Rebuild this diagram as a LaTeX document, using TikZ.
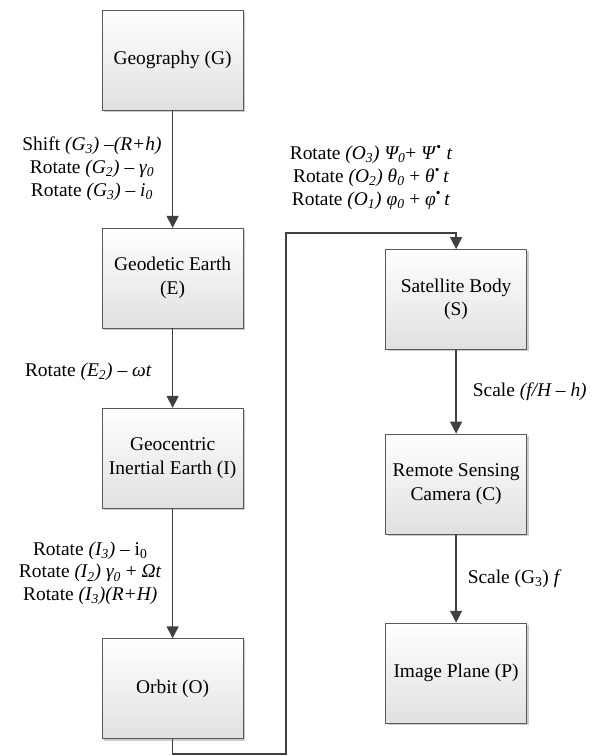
\documentclass[tikz,border=0pt]{standalone}
\usepackage{fontspec}
\setmainfont{Liberation Serif}
\usetikzlibrary{arrows.meta,positioning,shadows}

\begin{document}
\begin{tikzpicture}[
  frame/.style={draw=black!65, top color=white, bottom color=black!12,
    minimum width=4.97cm, minimum height=3.53cm, align=center,
    drop shadow={shadow xshift=2pt, shadow yshift=-2pt, fill=black!20, opacity=1},
    font=\fontsize{19.5}{24}\selectfont},
  arr/.style={-{Triangle[length=12pt,width=12pt]}, line width=1.4pt, draw=black!75},
  note/.style={font=\fontsize{19.5}{23}\selectfont, align=center}
]
  \useasboundingbox (0,0) rectangle (20.99,26.67);

  % left column
  \node[frame] (geo) at (6.09, 24.56) {Geography (G)};
  \node[frame] (earth) at (6.09, 16.86) {Geodetic Earth\\(E)};
  \node[frame] (inert) at (6.09, 10.51) {Geocentric\\Inertial Earth (I)};
  \node[frame] (orbit) at (6.09, 2.38) {Orbit (O)};

  % right column
  \node[frame] (sat) at (16.09, 16.11) {Satellite Body\\(S)};
  \node[frame] (cam) at (16.09, 9.60) {Remote Sensing\\Camera (C)};
  \node[frame] (img) at (16.09, 2.93) {Image Plane (P)};

  \coordinate (bend1) at (10.09, 0.07);
  \coordinate (bend2) at (10.09, 18.45);

  \draw[arr] (geo) -- (earth)
    node[midway, left=0.25cm, note] {Shift \textit{(G\textsubscript{3}) –(R+h)}\\
      Rotate \textit{(G\textsubscript{2}) – γ\textsubscript{0}}\\
      Rotate \textit{(G\textsubscript{3}) – i\textsubscript{0}}};
  \draw[arr] (earth) -- (inert)
    node[midway, left=0.6cm, yshift=-4pt, note] {Rotate \textit{(E\textsubscript{2}) – ωt}};
  \draw[arr] (inert) -- (orbit)
    node[midway, left=0.25cm, note] {Rotate \textit{(I\textsubscript{3})} – i\textsubscript{0}\\
      Rotate \textit{(I\textsubscript{2}) γ\textsubscript{0}} + \textit{Ωt}\\
      Rotate \textit{(I\textsubscript{3})(R+H)}};
  \draw[arr] (orbit.south) |- (bend1) -- (bend2) -| (sat.north)
    node[pos=0.25, above=0.7cm, note] {Rotate \textit{(O\textsubscript{3}) Ψ\textsubscript{0}}+ \textit{Ψ}\textsuperscript{•} \textit{t}\\
      Rotate \textit{(O\textsubscript{2}) θ\textsubscript{0}} + \textit{θ}\textsuperscript{•}\,\textit{t}\\
      Rotate \textit{(O\textsubscript{1}) φ\textsubscript{0}} + \textit{φ}\textsuperscript{•}\,\textit{t}};
  \draw[arr] (sat) -- (cam)
    node[midway, right=0.45cm, note] {Scale \textit{(f/H – h)}};
  \draw[arr] (cam) -- (img)
    node[midway, right=0.27cm, note] {Scale (G\textsubscript{3}) \textit{f}};
\end{tikzpicture}
\end{document}
